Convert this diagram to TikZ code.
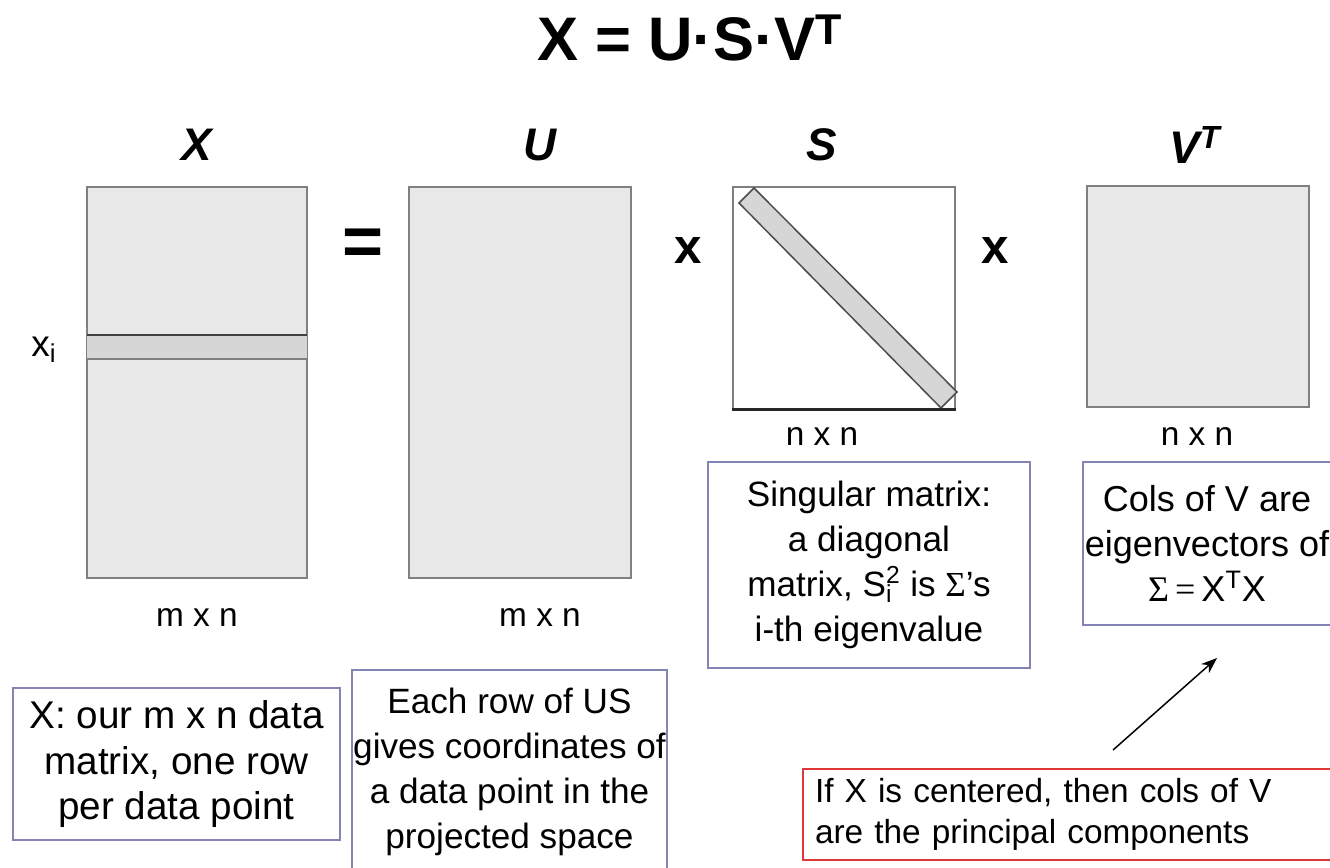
\documentclass[tikz,border=0pt]{standalone}
\usepackage{fontspec}
\setmainfont{Liberation Sans}
\newfontfamily\greekfont{Liberation Serif}
\usetikzlibrary{arrows.meta, positioning}
\definecolor{MatFill}{HTML}{E8E8E8}
\definecolor{MatEdge}{HTML}{808080}
\definecolor{BandFill}{HTML}{D6D6D6}
\definecolor{NoteEdge}{HTML}{8484B4}
\definecolor{WarnEdge}{HTML}{E03838}
\tikzset{
  matbox/.style={draw=MatEdge, fill=MatFill, line width=0.35mm, inner sep=0pt},
  matlabel/.style={font=\fontsize{26}{30}\selectfont\bfseries\itshape},
  dimlabel/.style={font=\fontsize{19}{23}\selectfont},
  opsign/.style={font=\fontsize{28}{32}\selectfont\bfseries},
  notebox/.style={draw=NoteEdge, line width=0.4mm, fill=white, align=center,
    inner sep=0pt, font=\fontsize{20}{25.6}\selectfont},
}
\begin{document}
\begin{tikzpicture}[x=0.2mm, y=-0.2mm]
    \useasboundingbox (0,0) rectangle (1330,867);
    % Title
    \node[font=\fontsize{35}{40}\selectfont\bfseries] (title) at (690,38) {X = U·S·V\textsuperscript{T}};
    % Matrices
    \node[matbox, minimum width=44mm, minimum height=78.2mm] (Xmat) at (197,382.5) {};
    \node[matbox, minimum width=44.4mm, minimum height=78.2mm] (Umat) at (520,382.5) {};
    \node[matbox, fill=white, minimum width=44.4mm, minimum height=44.4mm] (Smat) at (844,298) {};
    \node[matbox, minimum width=44.4mm, minimum height=44.2mm] (Vmat) at (1198,296.5) {};
    % Row x_i of X
    \fill[BandFill] (87,335) rectangle (307,359);
    \draw[MatEdge, line width=0.35mm] (87,359) -- (307,359);
    \draw[black!75, line width=0.45mm] (87,335) -- (307,335);
    \node[font=\fontsize{21}{25}\selectfont] (xi) at (44,350) {x\textsubscript{i}};
    % Diagonal of S
    \draw[fill=BandFill, draw=black!70, line width=0.3mm]
        (739,203) -- (754,188) -- (957,392) -- (941,408) -- cycle;
    \draw[black!85, line width=0.6mm] (Smat.south west) -- (Smat.south east);
    % Names
    \node[matlabel] (Xname) at (197,145) {X};
    \node[matlabel] (Uname) at (540,145) {U};
    \node[matlabel] (Sname) at (822,145) {S};
    \node[matlabel] (Vname) at (1195,145) {V\textsuperscript{T}};
    % Signs
    \node[font=\fontsize{40}{44}\selectfont\bfseries] (eqsign) at (363,247) {=};
    \node[opsign] (times1) at (688,250) {x};
    \node[opsign] (times2) at (995,250) {x};
    % Sizes
    \node[dimlabel] (Xdim) at (197,618) {m x n};
    \node[dimlabel] (Udim) at (540,618) {m x n};
    \node[dimlabel] (Sdim) at (822,437) {n x n};
    \node[dimlabel] (Vdim) at (1197,437) {n x n};
    % Notes
    \node[notebox, minimum width=65.4mm, minimum height=30.4mm,
        font=\fontsize{22}{26}\selectfont] (Xnote) at (176.5,764)
        {X: our m x n data\\ matrix, one row\\ per data point};
    \node[notebox, minimum width=63mm, minimum height=41mm] (Unote) at (509.5,772)
        {Each row of US\\ gives coordinates of\\ a data point in the\\ projected space};
    \node[notebox, minimum width=64.4mm, minimum height=41.2mm] (Snote) at (869,565)
        {Singular matrix:\\ a diagonal\\ matrix, S\rlap{\textsubscript{i}}\textsuperscript{2} is {\greekfont Σ}’s\\ i-th eigenvalue};
    \node[notebox, minimum width=49.6mm, minimum height=32.6mm,
        font=\fontsize{20.5}{25.6}\selectfont] (Vnote) at (1207,543.5)
        {Cols of V are\\ eigenvectors of\\ {\greekfont Σ\,=\,}X\textsuperscript{T}X};
    \node[notebox, draw=WarnEdge, align=left, inner xsep=2.4mm, text width=103.6mm,
        minimum height=18.2mm, font=\fontsize{19}{23}\selectfont] (pcnote) at (1074,814.5)
        {If X is centered, then cols of V\\ are the principal components};
    % Pointer
    \coordinate (ptail) at (1113,750);
    \coordinate (phead) at (1217,658);
    \draw[-{Stealth[length=3.2mm, width=2.4mm]}, line width=0.3mm] (ptail) -- (phead);
\end{tikzpicture}
\end{document}
